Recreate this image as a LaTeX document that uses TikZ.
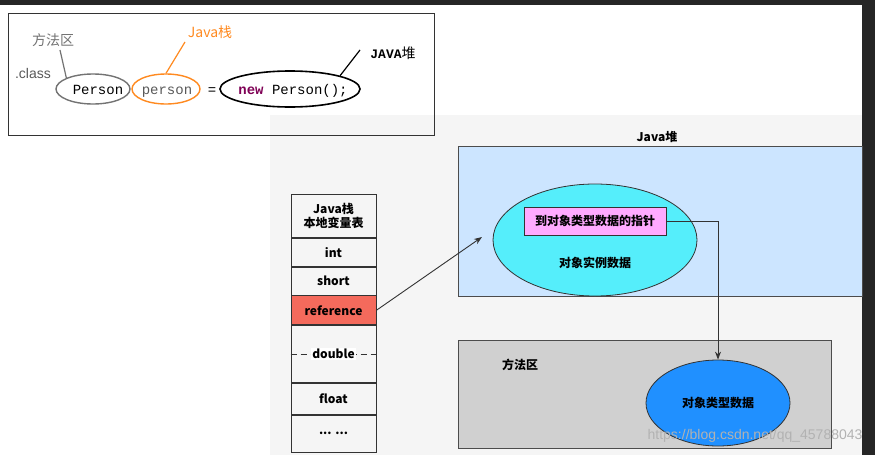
\documentclass[tikz,border=0pt]{standalone}
\usepackage{fontspec}
\setmainfont{Noto Sans CJK SC}
\newfontfamily\monof{Liberation Mono}
\newfontfamily\latf{Liberation Sans}
\usetikzlibrary{arrows.meta,shapes.geometric}
\definecolor{heapbg}{HTML}{CCE5FF}
\definecolor{cyanell}{HTML}{55EEFB}
\definecolor{pinkbox}{HTML}{FFAAFF}
\definecolor{methbg}{HTML}{D0D0D0}
\definecolor{blueell}{HTML}{2090FF}
\definecolor{refred}{HTML}{F46A5C}
\definecolor{orng}{HTML}{FF8A20}
\definecolor{kw}{HTML}{7F0055}
\tikzset{
  txt/.style={font=\fontsize{12}{14}\selectfont\bfseries},
  cell/.style={draw=black!80, line width=0.8pt, minimum width=85pt, inner sep=0pt, txt},
  arr/.style={-{Stealth[length=8pt,width=6pt]}, line width=0.9pt, draw=black!80},
  lab/.style={font=\fontsize{14}{16}\selectfont},
  code/.style={font=\monof\fontsize{14}{16}\selectfont, anchor=base}
}
\begin{document}
\begin{tikzpicture}[x=1pt,y=-1pt]
\useasboundingbox (0,0) rectangle (875,455);
\fill[white] (0,0) rectangle (875,455);
\fill[black!85] (0,0) rectangle (875,5);
\fill[black!4] (270,115) rectangle (862,455);
\fill[black!85] (862,0) rectangle (875,455);
% top box
\draw[line width=0.8pt, black!80] (8,13) rectangle (434,135);
\node[draw=black!55, line width=1.4pt, ellipse, minimum width=74pt, minimum height=30pt, inner sep=0pt] (ep) at (93,89) {};
\node[draw=orng, line width=1.4pt, ellipse, minimum width=68pt, minimum height=30pt, inner sep=0pt] (ev) at (166,89) {};
\node[draw=black, line width=1.6pt, ellipse, minimum width=140pt, minimum height=36pt, inner sep=0pt] (en) at (290,89) {};
\node[code] (c1) at (98,94) {Person};
\node[code, text=black!65] (c2) at (167,94) {person};
\node[code] (c3) at (212,94) {=};
\node[code] (c4) at (293,94) {\textcolor{kw}{\textbf{new}} Person();};
\node[lab, text=black!55] (l1) at (53,40) {方法区};
\node[lab, text=orng] (l2) at (210,32) {Java栈};
\node[font=\monof\fontsize{13}{15}\selectfont\bfseries] (l3) at (393,53) {JAVA\normalfont\fontsize{14}{15}\selectfont 堆};
\node[font=\latf\fontsize{14}{16}\selectfont, text=black!65] (l4) at (33,73) {.class};
\draw[black!55, line width=1.2pt] (60,50) -- (ep.north west);
\draw[orng, line width=1.2pt] (185,42) -- (ev.north);
\draw[black, line width=1.2pt] (360,50) -- (en.north east);
% heap
\node[txt] (hl) at (657,137) {Java堆};
\fill[heapbg, draw=black!70, line width=0.8pt] (458,146) -- (862,146) -- (862,296) -- (458,296) -- cycle;
\node[draw=black!80, fill=cyanell, ellipse, line width=0.8pt, minimum width=204pt, minimum height=112pt, inner sep=0pt] (oe) at (595,240) {};
\node[draw=black!80, fill=pinkbox, line width=0.8pt, minimum width=142pt, minimum height=28pt, inner sep=0pt, txt] (pb) at (595,221) {到对象类型数据的指针};
\node[txt] (ot) at (595,263) {对象实例数据};
% method area
\draw[fill=methbg, draw=black!70, line width=0.8pt] (458,340) rectangle (831,448);
\node[txt] (ml) at (520,365) {方法区};
\node[draw=black!80, fill=blueell, ellipse, line width=0.8pt, minimum width=144pt, minimum height=86pt, inner sep=0pt, txt] (be) at (718,403) {对象类型数据};
% stack
\node[cell, minimum height=43pt, align=center, anchor=north] (s0) at (333.5,194) {Java栈\\本地变量表};
\node[cell, minimum height=28pt, anchor=north] (s1) at (s0.south) {int};
\node[cell, minimum height=28pt, anchor=north] (s2) at (s1.south) {short};
\node[cell, minimum height=29pt, anchor=north, fill=refred] (s3) at (s2.south) {reference};
\node[cell, minimum height=57pt, anchor=north] (s4) at (s3.south) {};
\node[cell, minimum height=31pt, anchor=north] (s5) at (s4.south) {float};
\node[cell, minimum height=37pt, anchor=north] (s6) at (s5.south) {... ...};
\draw[line width=0.8pt, black!80, dash pattern=on 6pt off 4pt] (s4.west) -- (s4.east);
\node[txt, fill=white, inner sep=1pt] (dl) at (s4.center) {double};
% connectors
\coordinate (ah) at (482,237);
\draw[arr] (s3.east) -- (ah);
\draw[arr] (pb.east) -- (718,221) -- (be.north);
\node[font=\latf\fontsize{14}{16}\selectfont, text=black!30, anchor=east] (wm) at (866,436) {https://blog.csdn.net/qq\_45788043};
\end{tikzpicture}
\end{document}
